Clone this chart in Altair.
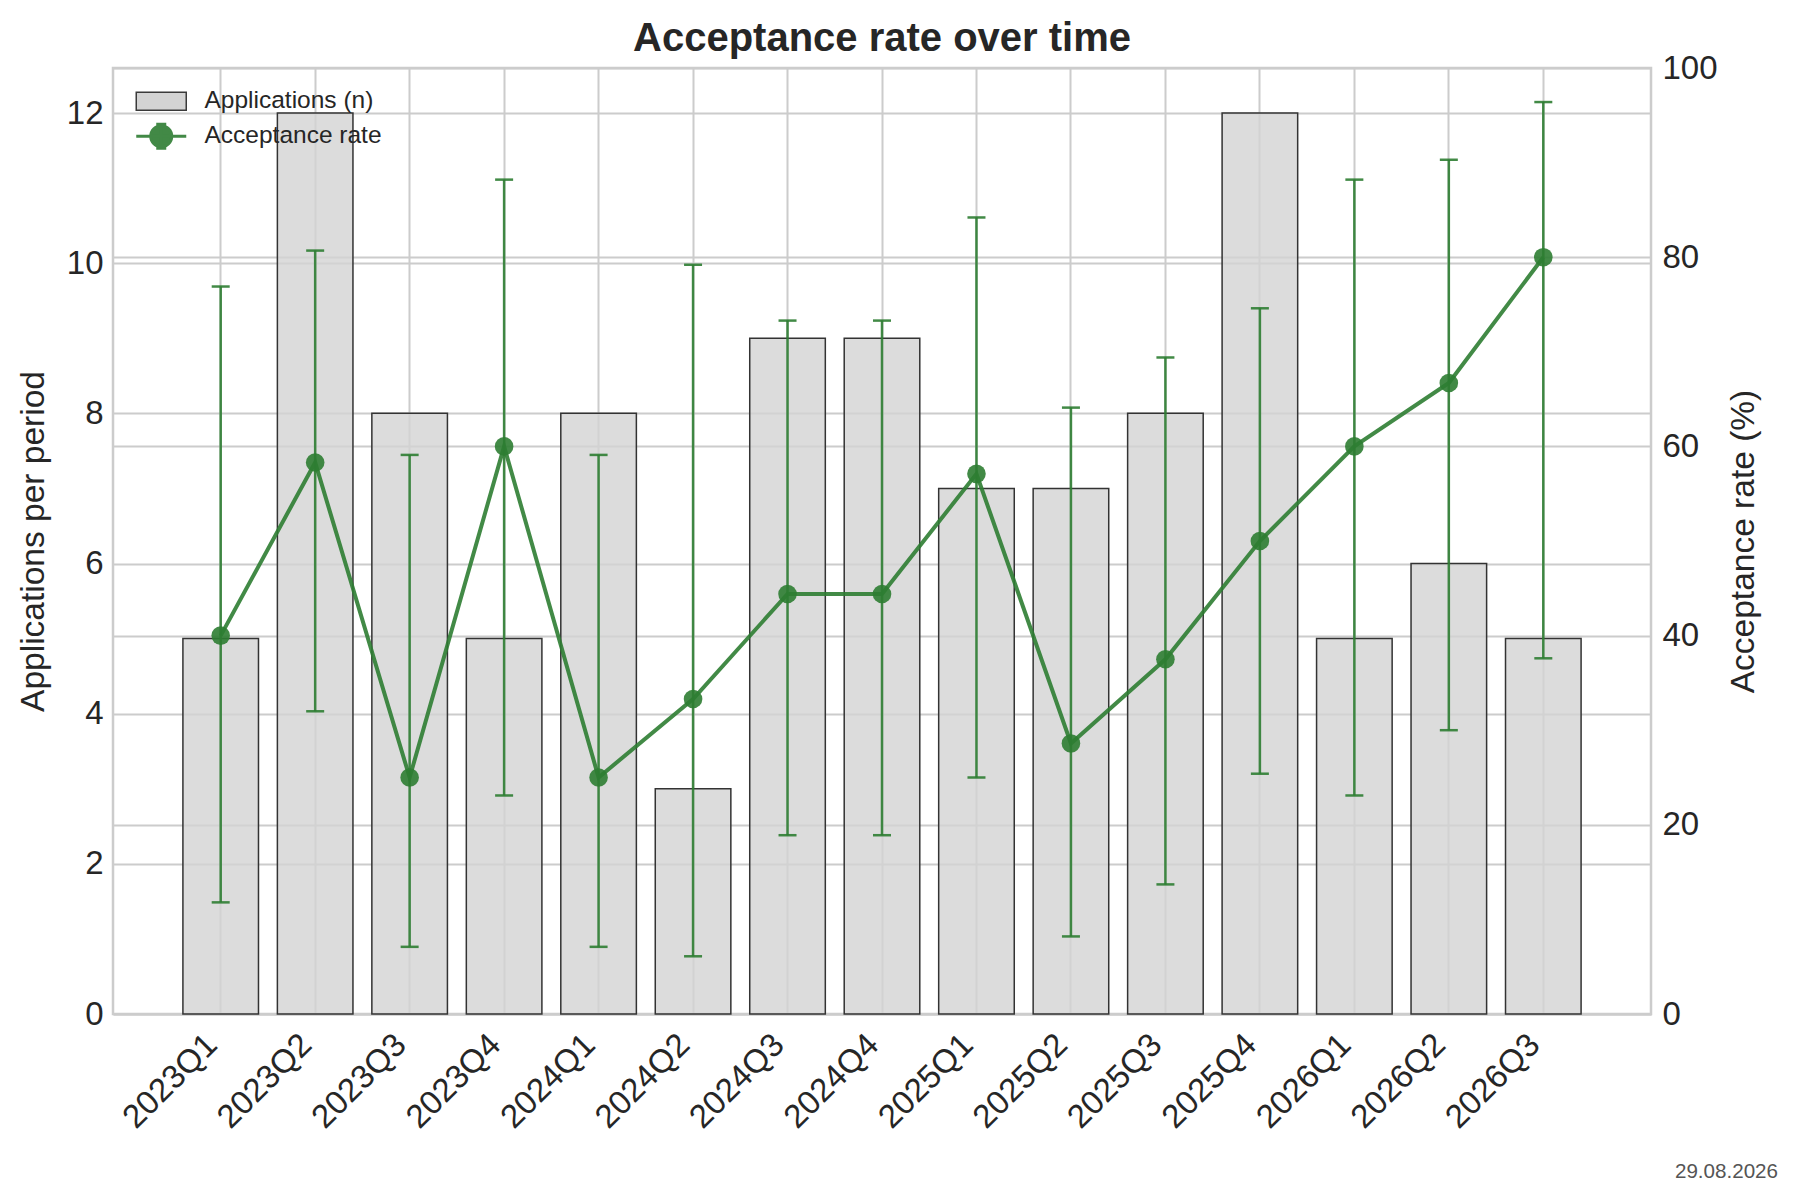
import altair as alt
import pandas as pd

periods = ["2023Q1", "2023Q2", "2023Q3", "2023Q4", "2024Q1", "2024Q2", "2024Q3", "2024Q4",
           "2025Q1", "2025Q2", "2025Q3", "2025Q4", "2026Q1", "2026Q2", "2026Q3"]
applications = [5, 12, 8, 5, 8, 3, 9, 9, 7, 7, 8, 12, 5, 6, 5]
rate = [40.0, 58.3, 25.0, 60.0, 25.0, 33.3, 44.4, 44.4, 57.1, 28.6, 37.5, 50.0, 60.0, 66.7, 80.0]
ci_low = [11.8, 32.0, 7.1, 23.1, 7.1, 6.1, 18.9, 18.9, 25.0, 8.2, 13.7, 25.4, 23.1, 30.0, 37.6]
ci_high = [76.9, 80.7, 59.1, 88.2, 59.1, 79.2, 73.3, 73.3, 84.2, 64.1, 69.4, 74.6, 88.2, 90.3, 96.4]
left_ticks = [0, 2, 4, 6, 8, 10, 12]
right_ticks = [0, 20, 40, 60, 80, 100]
bar_label = "Applications (n)"
line_label = "Acceptance rate"
date_label = "29.08.2026"

df = pd.DataFrame({"period": periods, "applications": applications, "rate": rate,
                   "ci_low": ci_low, "ci_high": ci_high})

FONT = "Liberation Sans"
GREEN = "#2e7d32"
TXT = "#262626"
TICK_FS = 33

x_enc = alt.X("period:N", sort=periods,
              scale=alt.Scale(paddingInner=0.2, paddingOuter=0.74),
              axis=alt.Axis(title=None, labelAngle=315, labelAlign="right", labelBaseline="top",
                            labelFontSize=TICK_FS, labelPadding=14, labelOffset=-20, grid=True,
                            bandPosition=0.5, ticks=False, domain=False))

bars = alt.Chart(df).transform_calculate(series=f"'{bar_label}'").mark_bar(
    stroke="#333333", strokeWidth=1.5, fillOpacity=0.8).encode(
    x=x_enc,
    y=alt.Y("applications:Q", scale=alt.Scale(domain=[0, 12.6], nice=False),
            axis=alt.Axis(title="Applications per period", values=left_ticks, labelFontSize=TICK_FS,
                          labelPadding=10, titleFontSize=33.5, titleX=-69.5, titleY=473,
                          titleAngle=270, titleBaseline="alphabetic", grid=True)),
    fill=alt.Fill("series:N",
                  scale=alt.Scale(domain=[bar_label], range=["#d3d3d3"]),
                  legend=alt.Legend(title=None, orient="none", legendX=36, legendY=21,
                                    symbolType="M-2.5,-0.9H2.5V0.9H-2.5Z", symbolSize=400,
                                    symbolStrokeColor="#3a3a3a", symbolStrokeWidth=1.5,
                                    labelOffset=31, labelFontSize=24.5, labelLimit=500,
                                    padding=0)),
)

yr = alt.Scale(domain=[0, 100], nice=False)
r_axis = alt.Axis(title="Acceptance rate (%)", orient="right", values=right_ticks,
                  labelFontSize=TICK_FS, labelPadding=11, titleFontSize=33.5, titleX=102,
                  titleY=473, titleAngle=270, titleBaseline="alphabetic", grid=True)

err = alt.Chart(df).mark_rule(color=GREEN, strokeWidth=2.5, opacity=0.9).encode(
    x=x_enc,
    y=alt.Y("ci_low:Q", scale=yr, axis=r_axis, title="Acceptance rate (%)"),
    y2="ci_high:Q",
)
cap_lo = alt.Chart(df).mark_tick(color=GREEN, thickness=2.5, size=18, opacity=0.9).encode(
    x=x_enc, y=alt.Y("ci_low:Q", scale=yr, axis=r_axis, title="Acceptance rate (%)"))
cap_hi = alt.Chart(df).mark_tick(color=GREEN, thickness=2.5, size=18, opacity=0.9).encode(
    x=x_enc, y=alt.Y("ci_high:Q", scale=yr, axis=r_axis, title="Acceptance rate (%)"))

line = alt.Chart(df).transform_calculate(series=f"'{line_label}'").mark_line(
    strokeWidth=4, opacity=0.9).encode(
    x=x_enc,
    y=alt.Y("rate:Q", scale=yr, axis=r_axis, title="Acceptance rate (%)"),
    stroke=alt.Stroke("series:N",
                      scale=alt.Scale(domain=[line_label], range=[GREEN]),
                      legend=alt.Legend(title=None, orient="none", legendX=36, legendY=56,
                                        symbolType="M-2.5,0H2.5M-1.05,0A1.05,1.05 0 1,0 1.05,0A1.05,1.05 0 1,0 -1.05,0ZM0,-1.2V1.2M-0.5,-1.2H0.5M-0.5,1.2H0.5",
                                        symbolSize=400, symbolStrokeWidth=3,
                                        symbolFillColor=GREEN, symbolOpacity=0.9,
                                        labelOffset=31, labelFontSize=24.5, labelLimit=500,
                                        padding=0)),
)
pts = alt.Chart(df).mark_circle(size=346, color=GREEN, opacity=0.9).encode(
    x=x_enc, y=alt.Y("rate:Q", scale=yr, axis=r_axis, title="Acceptance rate (%)"))

right = alt.layer(err, cap_lo, cap_hi, line, pts)

note = alt.Chart(pd.DataFrame({"d": [date_label]})).mark_text(
    font=FONT, fontSize=20.6, color="#555555", align="right", baseline="alphabetic").encode(
    text="d:N", x=alt.value(1665), y=alt.value(1110))

chart = alt.layer(bars, right, note).resolve_scale(y="independent").properties(
    width=1538, height=946,
    autosize=alt.AutoSizeParams(type="none"),
    padding={"left": 105, "top": 60, "right": 140, "bottom": 175},
    title=alt.TitleParams("Acceptance rate over time", fontSize=40, fontWeight="bold", font=FONT,
                          color=TXT, anchor="middle", offset=8, dy=15),
).configure_axis(
    labelFont=FONT, titleFont=FONT, labelColor=TXT, titleColor=TXT, titleFontWeight="normal",
    gridColor="#cccccc", gridWidth=2, domain=False, ticks=False,
).configure_view(stroke="#cccccc", strokeWidth=2.5).configure_legend(
    labelFont=FONT, labelColor=TXT,
)

chart.save("out.html", embed_options={"renderer": "svg", "actions": False})
